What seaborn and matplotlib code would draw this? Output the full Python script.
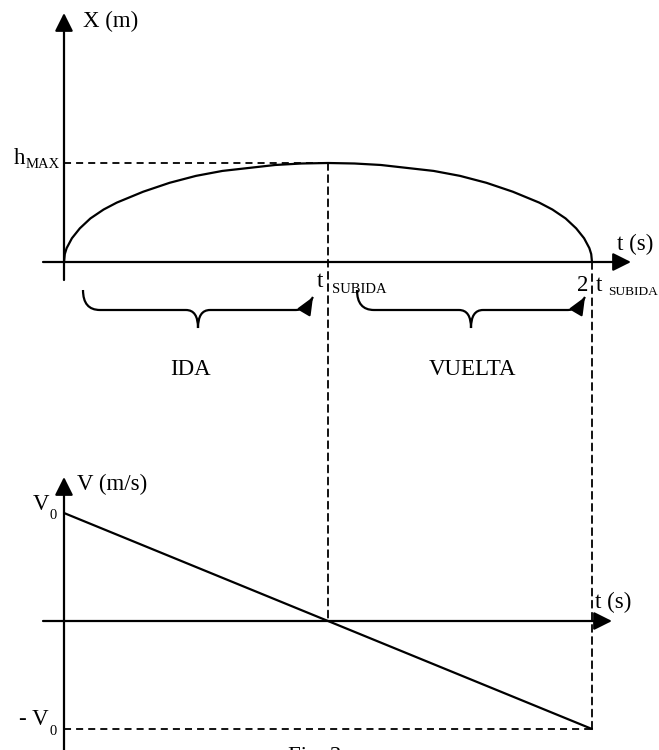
import numpy as np
import matplotlib
matplotlib.use("Agg")
import matplotlib.pyplot as plt
import seaborn as sns
from matplotlib.path import Path
from matplotlib.patches import PathPatch, ConnectionPatch

sns.set_theme(style="white")
plt.rcParams["font.family"] = ["Liberation Serif", "DejaVu Serif"]

# position curve X(t) (t in units of t_subida, X in units of h_max)
t_pos = [0, 0.003, 0.01, 0.03, 0.06, 0.1, 0.15, 0.2, 0.3, 0.4, 0.5, 0.6, 0.7, 0.8, 0.9, 1.0,
         1.1, 1.2, 1.3, 1.4, 1.5, 1.6, 1.7, 1.8, 1.85, 1.9, 1.94, 1.97, 1.99, 1.997, 2.0]
x_pos = [0, 0.08, 0.14, 0.24, 0.34, 0.44, 0.53, 0.60, 0.71, 0.80, 0.87, 0.92, 0.95, 0.98, 0.995, 1.0,
         0.995, 0.98, 0.95, 0.92, 0.87, 0.80, 0.71, 0.60, 0.53, 0.44, 0.34, 0.24, 0.14, 0.08, 0]
# velocity line V(t), in units of V0
t_vel = [0, 1, 2]
v_vel = [1, 0, -1]
t_sube = 1.0
h_max = 1.0
v0 = 1.0

W, H = 659, 750
fig = plt.figure(figsize=(W / 100, H / 100), dpi=100)

def fx(x):
    return x / W

def fy(y):
    return 1 - y / H

# layout: origin pixels and scale of each panel
px_t = 264.0
x0 = 64
top_rows, top_zero, px_h = 400, 262, 99.0
bot_zero, px_v = 621, 108.0
xlim = (-x0 / px_t, (W - x0) / px_t)

ax_top = fig.add_axes([0, fy(top_rows), 1, top_rows / H])
ax_bot = fig.add_axes([0, 0, 1, (H - top_rows) / H])
ax_top.set_xlim(*xlim)
ax_top.set_ylim(-(top_rows - top_zero) / px_h, top_zero / px_h)
ax_bot.set_xlim(*xlim)
ax_bot.set_ylim(-(H - bot_zero) / px_v, (bot_zero - top_rows) / px_v)
for ax in (ax_top, ax_bot):
    ax.axis("off")
    ax.patch.set_alpha(0)

LW = 1.6
DASH = (0, (3.9, 2.8))
head = "-|>,head_length=1.1,head_width=0.55"

def axis_arrow(ax, start, end):
    ax.annotate("", xy=end, xytext=start,
                arrowprops=dict(arrowstyle=head, mutation_scale=10, color="black",
                                lw=LW, shrinkA=0, shrinkB=0))

# axes with arrows
axis_arrow(ax_top, (-21 / px_t, 0), ((631 - x0) / px_t, 0))
axis_arrow(ax_top, (0, -(280 - top_zero) / px_h), (0, (top_zero - 13) / px_h))
axis_arrow(ax_bot, (-21 / px_t, 0), ((612 - x0) / px_t, 0))
axis_arrow(ax_bot, (0, -(H + 5 - bot_zero) / px_v), (0, (bot_zero - 477) / px_v))

# curves
sns.lineplot(x=t_pos, y=x_pos, ax=ax_top, color="black", lw=LW, sort=False, estimator=None)
sns.lineplot(x=t_vel, y=v_vel, ax=ax_bot, color="black", lw=LW, sort=False, estimator=None)

# dashed guides
ax_top.plot([0, t_sube], [h_max, h_max], color="black", lw=1.3, linestyle=DASH)
ax_bot.plot([0, 2 * t_sube], [-v0, -v0], color="black", lw=1.3, linestyle=DASH)
for (ta, ya, yb) in [(t_sube, h_max, 0), (2 * t_sube, 0, -v0)]:
    con = ConnectionPatch(xyA=(ta, ya), coordsA=ax_top.transData,
                          xyB=(ta, yb), coordsB=ax_bot.transData,
                          color="black", lw=1.3, linestyle=DASH)
    fig.add_artist(con)

# braces with arrow at their right end
def brace(ax, t0, t1, ys):
    rx, drop, tip, hw, rise = 17 / px_t, 20 / px_h, 18 / px_h, 12 / px_t, 13 / px_h
    yl = ys - drop
    mid = (t0 + t1) / 2
    verts = [(t0, ys), (t0, yl), (t0 + rx, yl), (mid - hw, yl), (mid, yl), (mid, yl - tip),
             (mid, yl), (mid + hw, yl), (t1 - rx, yl), (t1 - rx * 0.45, yl), (t1, yl + rise)]
    codes = [Path.MOVETO, Path.CURVE3, Path.CURVE3, Path.LINETO, Path.CURVE3, Path.CURVE3,
             Path.CURVE3, Path.CURVE3, Path.LINETO, Path.CURVE3, Path.CURVE3]
    ax.add_patch(PathPatch(Path(verts, codes), fill=False, lw=LW, edgecolor="black"))
    ax.annotate("", xy=(t1, yl + rise), xytext=(t1 - rx * 0.45, yl),
                arrowprops=dict(arrowstyle="-|>,head_length=1.05,head_width=0.45",
                                mutation_scale=10, color="black", lw=LW,
                                shrinkA=0, shrinkB=0))

brace(ax_top, (83 - x0) / px_t, (313 - x0) / px_t, -(290 - top_zero) / px_h)
brace(ax_top, (357 - x0) / px_t, (585 - x0) / px_t, -(290 - top_zero) / px_h)

# labels
FS, SUB = 16.5, 10.5
def lab(x, y, s, size=FS, ha="left"):
    fig.text(fx(x), fy(y), s, size=size, ha=ha, va="baseline", color="black")

lab(83, 27, "X (m)")
lab(25, 164, "h", ha="right")
lab(26, 168, "MAX", size=SUB)
lab(617, 250, "t (s)")
lab(323, 287, "t", ha="right")
lab(332, 293, "SUBIDA", size=SUB)
lab(588, 291, "2", ha="right")
lab(596, 291, "t")
lab(608, 295, "SUBIDA", size=9.6)
lab(190, 375, "IDA", ha="center")
lab(472, 375, "VUELTA", ha="center")
lab(77, 490, "V (m/s)")
lab(49, 510, "V", ha="right")
lab(49, 519, "0", size=SUB)
lab(49, 725, "- V", ha="right")
lab(49, 735, "0", size=SUB)
lab(595, 608, "t (s)")
lab(288, 762, "Fig. 3")

fig.savefig("out.png", dpi=100)
